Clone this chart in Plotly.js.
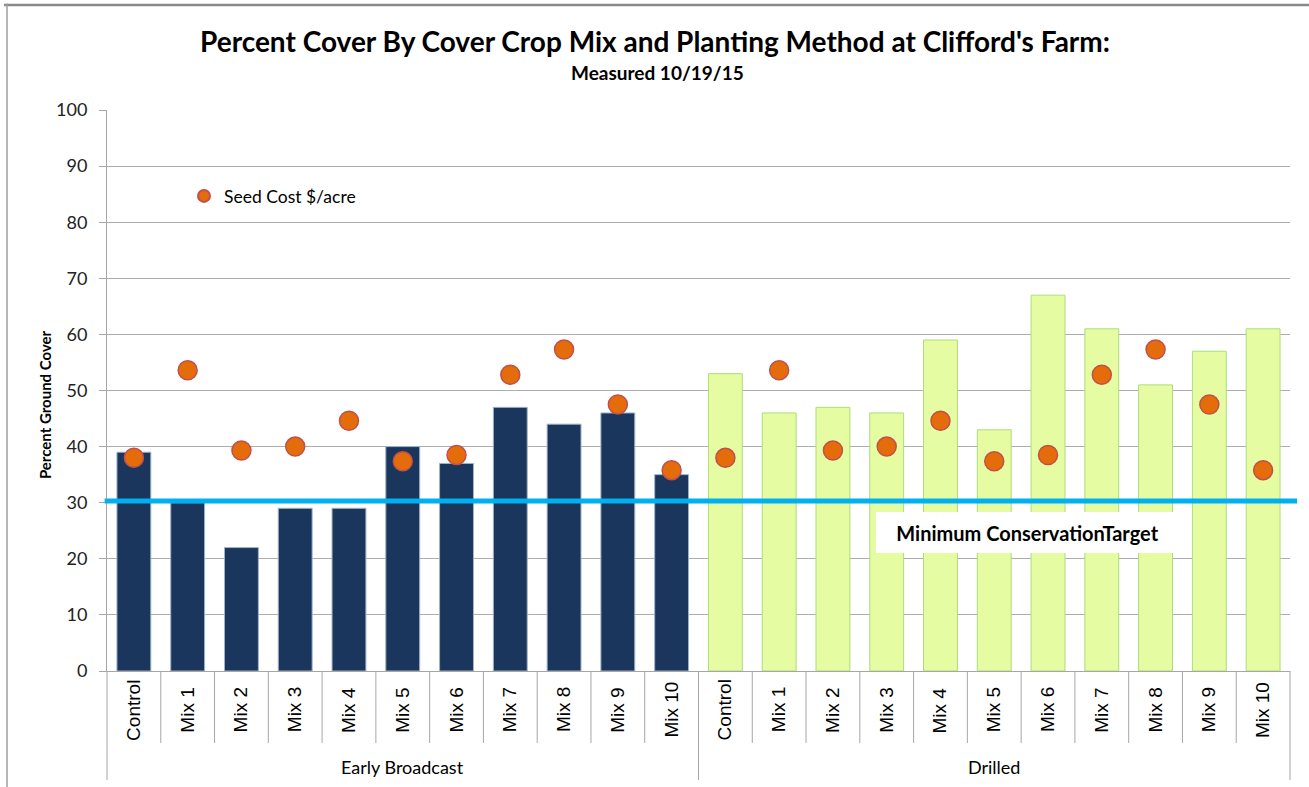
<!DOCTYPE html>
<html>
<head>
<meta charset="utf-8">
<script src="https://cdn.plot.ly/plotly-3.0.1.min.js"></script>
<style>
  html, body { margin: 0; padding: 0; background: #ffffff; }
  #chart { width: 1309px; height: 787px; }
</style>
</head>
<body>
<div id="chart"></div>
<script>
// ---- data ----
const mixLabels = ["Control", "Mix 1", "Mix 2", "Mix 3", "Mix 4", "Mix 5", "Mix 6", "Mix 7", "Mix 8", "Mix 9", "Mix 10"];
const groupLabels = ["Early Broadcast", "Drilled"];
const coverEarlyBroadcast = [39, 30, 22, 29, 29, 40, 37, 47, 44, 46, 35];
const coverDrilled = [53, 46, 47, 46, 59, 43, 67, 61, 51, 57, 61];
const seedCostEarlyBroadcast = [38, 53.6, 39.3, 40, 44.6, 37.4, 38.5, 52.8, 57.3, 47.5, 35.8];
const seedCostDrilled = [38, 53.6, 39.3, 40, 44.6, 37.4, 38.5, 52.8, 57.3, 47.5, 35.8];
const conservationTarget = 30.3;
const targetLabel = "Minimum ConservationTarget";
const seedLegend = "Seed Cost $/acre";
const yAxisTitle = "Percent Ground Cover";
const chartTitle = "Percent Cover By Cover Crop Mix and Planting Method at Clifford's Farm:";
const chartSubtitle = "Measured 10/19/15";

// ---- positions ----
const n = mixLabels.length;
const xEarly = mixLabels.map((_, i) => i);
const xDrilled = mixLabels.map((_, i) => i + n);
const xAll = xEarly.concat(xDrilled);
const xMin = -0.5, xMax = 2 * n - 0.5;
const toPaper = v => (v - xMin) / (xMax - xMin);

const calibri = "Lato, 'Open Sans', sans-serif";
const arial = "'Liberation Sans', Arial, sans-serif";

const traces = [
  {
    type: 'bar', x: xEarly, y: coverEarlyBroadcast, width: 0.63,
    marker: { color: '#1B365D', line: { color: '#9FB3C8', width: 1 } },
    showlegend: false, hoverinfo: 'skip'
  },
  {
    type: 'bar', x: xDrilled, y: coverDrilled, width: 0.63,
    marker: { color: '#E5FCA3', line: { color: '#AEDC78', width: 1 } },
    showlegend: false, hoverinfo: 'skip'
  },
  {
    type: 'scatter', mode: 'markers', name: seedLegend,
    x: xAll, y: seedCostEarlyBroadcast.concat(seedCostDrilled),
    marker: { color: '#E46C0A', size: 19, line: { color: '#C0504D', width: 1.5 } },
    showlegend: true, cliponaxis: false
  }
];

const shapes = [];
const annotations = [];
// separators below the category axis
const innerBottom = -0.1283, groupBottom = -0.1943;
for (let b = 0; b <= 2 * n; b++) {
  const pos = b - 0.5;
  const isGroupEdge = (b % n === 0);
  shapes.push({
    type: 'line', xref: 'paper', yref: 'paper',
    x0: toPaper(pos), x1: toPaper(pos), y0: 0, y1: isGroupEdge ? groupBottom : innerBottom,
    line: { color: '#A6A6A6', width: 1 }, layer: 'above'
  });
}
// conservation target line
shapes.push({
  type: 'line', xref: 'paper', yref: 'y',
  x0: -0.002, x1: 1.006, y0: conservationTarget, y1: conservationTarget,
  line: { color: '#00B0F0', width: 5 }, layer: 'above'
});
// outer frame
shapes.push({ type: 'line', xref: 'paper', yref: 'paper', x0: -0.0870, x1: 1.02, y0: 1.1872, y1: 1.1872,
  line: { color: '#8A8A8A', width: 2.5 } });
shapes.push({ type: 'line', xref: 'paper', yref: 'paper', x0: -0.0845, x1: -0.0845, y0: 1.19, y1: -0.21,
  line: { color: '#A0A0A0', width: 1.5 } });

// category labels
xAll.forEach((xv, i) => {
  annotations.push({
    x: xv, xref: 'x', y: -0.0695, yref: 'paper',
    text: mixLabels[i % n], textangle: -90, showarrow: false,
    xanchor: 'center', yanchor: 'middle',
    font: { family: arial, size: 19, color: '#000000' }
  });
});
// group labels
groupLabels.forEach((g, gi) => {
  annotations.push({
    x: gi * n + (n - 1) / 2, xref: 'x', y: -0.171, yref: 'paper',
    text: g, showarrow: false, xanchor: 'center', yanchor: 'middle',
    font: { family: calibri, size: 18, color: '#000000' }
  });
});
// titles
annotations.push({
  x: (655 - 107) / 1183, xref: 'paper', y: 1.123, yref: 'paper',
  text: '<b>' + chartTitle + '</b>', showarrow: false, xanchor: 'center', yanchor: 'middle',
  font: { family: calibri, size: 28, color: '#000000' }
});
annotations.push({
  x: (657 - 107) / 1183, xref: 'paper', y: 1.066, yref: 'paper',
  text: '<b>' + chartSubtitle + '</b>', showarrow: false, xanchor: 'center', yanchor: 'middle',
  font: { family: calibri, size: 19, color: '#000000' }
});
annotations.push({
  x: (45 - 107) / 1183, xref: 'paper', y: 0.474, yref: 'paper',
  text: '<b>' + yAxisTitle + '</b>', textangle: -90, showarrow: false, xanchor: 'center', yanchor: 'middle',
  font: { family: calibri, size: 15, color: '#000000' }
});
// target label box
annotations.push({
  x: (1027 - 107) / 1183, xref: 'paper', y: 0.246, yref: 'paper',
  text: '<b>' + targetLabel + '</b>', showarrow: false, xanchor: 'center', yanchor: 'middle',
  bgcolor: '#FFFFFF', borderpad: 1, borderwidth: 0, width: 301, height: 39,
  font: { family: calibri, size: 20, color: '#000000' }
});

const layout = {
  width: 1309, height: 787,
  margin: { l: 107, r: 19, t: 110, b: 116, pad: 0 },
  paper_bgcolor: '#FFFFFF', plot_bgcolor: '#FFFFFF',
  barmode: 'overlay',
  showlegend: true,
  legend: {
    x: (184 - 107) / 1183, y: (671 - 196) / 561, xanchor: 'left', yanchor: 'middle',
    bgcolor: 'rgba(0,0,0,0)', borderwidth: 0, itemsizing: 'constant',
    font: { family: calibri, size: 17.5, color: '#000000' }
  },
  xaxis: {
    range: [xMin, xMax], showgrid: false, zeroline: false,
    showticklabels: false, ticks: '',
    showline: true, linecolor: '#A6A6A6', linewidth: 1
  },
  yaxis: {
    range: [0, 100], dtick: 10, tick0: 0,
    showgrid: true, gridcolor: '#ADADAD', gridwidth: 1,
    zeroline: false, showline: true, linecolor: '#A6A6A6', linewidth: 1,
    ticks: 'outside', ticklen: 7, tickcolor: '#A6A6A6', ticklabelstandoff: 8,
    tickfont: { family: calibri, size: 18, color: '#222222' }
  },
  shapes: shapes,
  annotations: annotations
};

Plotly.newPlot('chart', traces, layout, { displayModeBar: false, staticPlot: true });
</script>
</body>
</html>
